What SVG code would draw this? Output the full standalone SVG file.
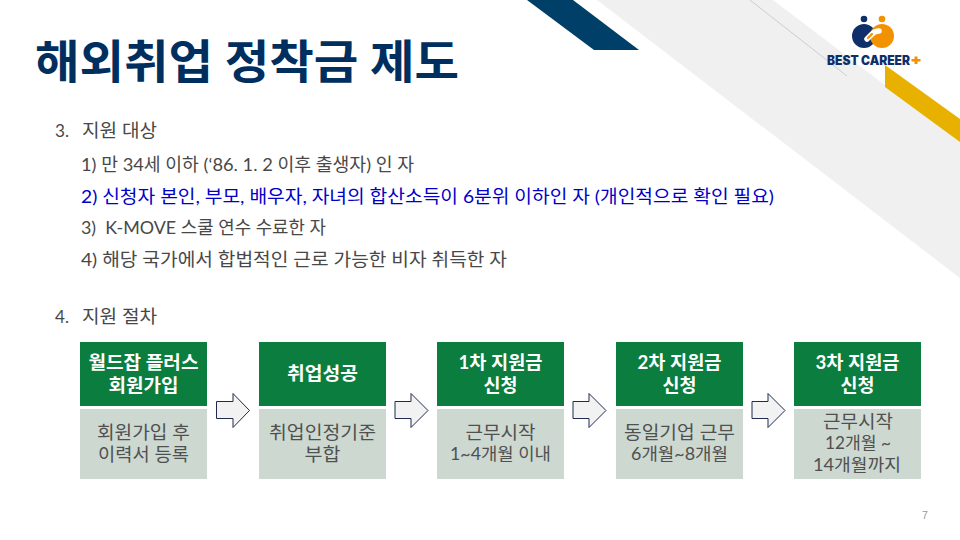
<svg xmlns="http://www.w3.org/2000/svg" width="960" height="540" viewBox="0 0 960 540">
<style>
text{font-family:"Lato","Noto Sans CJK KR","Noto Sans",sans-serif}
.b{font-size:18px;font-weight:400;fill:#484848}
.h{font-size:18.500px;font-weight:700;fill:#fff;text-anchor:middle}
.d{font-size:18.500px;font-weight:400;fill:#505050;text-anchor:middle}
.g{fill:#0b7d3e}.l{fill:#ccd8d0}
.a{fill:#f2f2f2;stroke:#1f2a4d;stroke-width:1}
</style>
<rect width="960" height="540" fill="#fff"/>
<g id="decor">
<polygon points="597,0 773,0 960,142 960,278" fill="#f0f0f0"/>
<polygon points="527,0 573,0 639,50 594,50" fill="#004068"/>
<polygon points="885,65 960,119 960,142 885,87" fill="#e8b100"/>
<line x1="750" y1="0" x2="847" y2="76" stroke="#bdbdbd" stroke-width="0.7"/>
</g>
<g id="logo">
<circle cx="864" cy="19" r="3.300" fill="#0f2f6b"/>
<circle cx="882" cy="19" r="3.300" fill="#f39200"/>
<circle cx="864" cy="36" r="12" fill="#0f2f6b"/>
<circle cx="882" cy="36" r="12" fill="#f39200"/>
<path d="M867 39l5-5c2-2 4-3 7-3" fill="none" stroke="#fff" stroke-width="5.500" stroke-linecap="round"/>
<path d="M868 38l4-4" stroke="#f39200" stroke-width="2.200" stroke-linecap="round"/>
<text x="827" y="64.500" font-size="12.500" font-weight="900" fill="#0f2f6b" textLength="83" lengthAdjust="spacingAndGlyphs" style="font-family:'Inter','Noto Sans',sans-serif">BEST CAREER</text>
<path d="M914.500 56.500h3v2.500h3v2.500h-3v2.500h-3v-2.500h-3v-2.500h3z" fill="#f39200"/>
</g>
<text id="title" x="35" y="78" font-size="46" font-weight="700" fill="#002f5f" textLength="424" lengthAdjust="spacingAndGlyphs">해외취업 정착금 제도</text>
<g id="body">
<text class="b" x="55" y="137" textLength="14" lengthAdjust="spacingAndGlyphs">3.</text>
<text class="b" x="82" y="137" textLength="75" lengthAdjust="spacingAndGlyphs">지원 대상</text>
<text class="b" x="81" y="171" textLength="333" lengthAdjust="spacingAndGlyphs">1) 만 34세 이하 (‘86. 1. 2 이후 출생자) 인 자</text>
<text class="b" x="81" y="203" textLength="693" lengthAdjust="spacingAndGlyphs" style="fill:#0000c8">2) 신청자 본인, 부모, 배우자, 자녀의 합산소득이 6분위 이하인 자 (개인적으로 확인 필요)</text>
<text class="b" x="81" y="234" textLength="245" lengthAdjust="spacingAndGlyphs" xml:space="preserve">3)  K-MOVE 스쿨 연수 수료한 자</text>
<text class="b" x="81" y="266" textLength="426" lengthAdjust="spacingAndGlyphs">4) 해당 국가에서 합법적인 근로 가능한 비자 취득한 자</text>
<text class="b" x="55" y="323" textLength="14" lengthAdjust="spacingAndGlyphs">4.</text>
<text class="b" x="82" y="323" textLength="75" lengthAdjust="spacingAndGlyphs">지원 절차</text>
</g>
<g id="connectors">
<polygon class="a" points="216.500,401.500 233,401.500 233,393.500 249.500,410.500 233,427.500 233,418.500 216.500,418.500"/>
<polygon class="a" points="395,401.500 411,401.500 411,393.500 428,410.500 411,427.500 411,418.500 395,418.500"/>
<polygon class="a" points="573,401.500 589,401.500 589,393.500 606,410.500 589,427.500 589,418.500 573,418.500"/>
<polygon class="a" points="752,401.500 768,401.500 768,393.500 785,410.500 768,427.500 768,418.500 752,418.500"/>
</g>
<g id="step1"><rect class="g" x="80" y="342" width="127" height="64"/><rect class="l" x="80" y="409" width="127" height="70"/>
<text class="h" x="143.500" y="368.500" textLength="110" lengthAdjust="spacingAndGlyphs">월드잡 플러스</text><text class="h" x="143.500" y="391.500" textLength="70" lengthAdjust="spacingAndGlyphs">회원가입</text>
<text class="d" x="143.500" y="439" textLength="93" lengthAdjust="spacingAndGlyphs">회원가입 후</text><text class="d" x="143.500" y="461" textLength="91" lengthAdjust="spacingAndGlyphs">이력서 등록</text></g>
<g id="step2"><rect class="g" x="259" y="342" width="127" height="64"/><rect class="l" x="259" y="409" width="127" height="70"/>
<text class="h" x="322.500" y="380" textLength="71" lengthAdjust="spacingAndGlyphs">취업성공</text>
<text class="d" x="322.500" y="439" textLength="107" lengthAdjust="spacingAndGlyphs">취업인정기준</text><text class="d" x="322.500" y="461" textLength="36" lengthAdjust="spacingAndGlyphs">부합</text></g>
<g id="step3"><rect class="g" x="437" y="342" width="127" height="64"/><rect class="l" x="437" y="409" width="127" height="70"/>
<text class="h" x="500.500" y="368.500" textLength="84" lengthAdjust="spacingAndGlyphs">1차 지원금</text><text class="h" x="500.500" y="391.500" textLength="34" lengthAdjust="spacingAndGlyphs">신청</text>
<text class="d" x="500.500" y="439" textLength="70" lengthAdjust="spacingAndGlyphs">근무시작</text><text class="d" x="500.500" y="460" style="font-size:17px" textLength="101" lengthAdjust="spacingAndGlyphs">1~4개월 이내</text></g>
<g id="step4"><rect class="g" x="616" y="342" width="127" height="64"/><rect class="l" x="616" y="409" width="127" height="70"/>
<text class="h" x="679.500" y="368.500" textLength="84" lengthAdjust="spacingAndGlyphs">2차 지원금</text><text class="h" x="679.500" y="391.500" textLength="34" lengthAdjust="spacingAndGlyphs">신청</text>
<text class="d" x="679.500" y="439" textLength="111" lengthAdjust="spacingAndGlyphs">동일기업 근무</text><text class="d" x="679.500" y="460" style="font-size:17px" textLength="97" lengthAdjust="spacingAndGlyphs">6개월~8개월</text></g>
<g id="step5"><rect class="g" x="794" y="342" width="127" height="64"/><rect class="l" x="794" y="409" width="127" height="70"/>
<text class="h" x="857.500" y="368.500" textLength="84" lengthAdjust="spacingAndGlyphs">3차 지원금</text><text class="h" x="857.500" y="391.500" textLength="34" lengthAdjust="spacingAndGlyphs">신청</text>
<text class="d" x="858" y="428" textLength="70" lengthAdjust="spacingAndGlyphs">근무시작</text><text class="d" x="858" y="449" style="font-size:17px" textLength="66" lengthAdjust="spacingAndGlyphs">12개월 ~</text><text class="d" x="857" y="471" style="font-size:17px" textLength="88" lengthAdjust="spacingAndGlyphs">14개월까지</text></g>
<text id="page" x="922" y="519" font-size="10.500" fill="#999" style="font-family:'Liberation Sans',sans-serif">7</text>
</svg>
